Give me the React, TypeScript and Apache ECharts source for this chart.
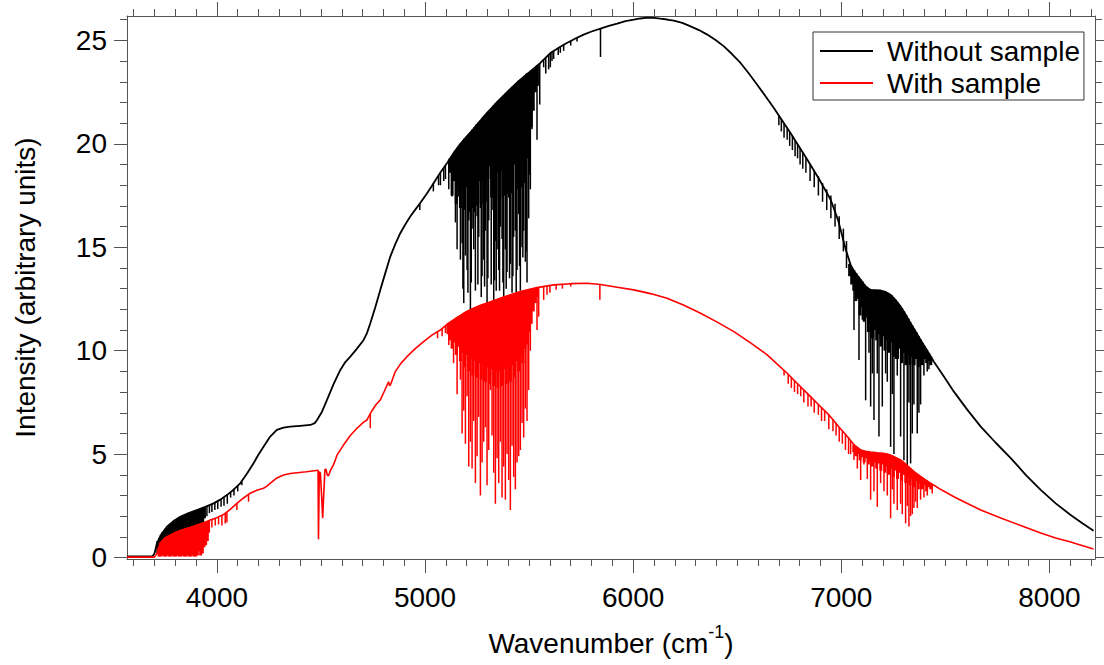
import React, { useEffect, useRef } from "react";
import * as echarts from "echarts";

// ---- axis ticks ----
const xMajorTicks = [4000, 5000, 6000, 7000, 8000];
const xMinorTicks = [3600, 3700, 3800, 3900, 4000, 4100, 4200, 4300, 4400, 4500, 4600, 4700, 4800, 4900, 5000, 5100, 5200, 5300, 5400, 5500, 5600, 5700, 5800, 5900, 6000, 6100, 6200, 6300, 6400, 6500, 6600, 6700, 6800, 6900, 7000, 7100, 7200, 7300, 7400, 7500, 7600, 7700, 7800, 7900, 8000, 8100, 8200];
const yMajorTicks = [0, 5, 10, 15, 20, 25];
const yMinorTicks = [0, 1, 2, 3, 4, 5, 6, 7, 8, 9, 10, 11, 12, 13, 14, 15, 16, 17, 18, 19, 20, 21, 22, 23, 24, 25, 26];

const seriesNames = ["Without sample", "With sample"];

// ---- spectrum envelopes [wavenumber, intensity] ----
const blackBase = [
  [3568, 0.05], [3690, 0.05], [3700, 0.2], [3712, 0.69], [3735, 1.15], [3760, 1.49], [3790, 1.75], [3824, 1.97], [3864, 2.15], [3904, 2.3], [3944, 2.45], [3984, 2.62], [4016, 2.8], [4048, 3.02], [4080, 3.28], [4112, 3.59], [4144, 4.05], [4176, 4.56], [4200, 4.98], [4224, 5.36], [4256, 5.85], [4288, 6.17], [4320, 6.28], [4352, 6.33], [4400, 6.37], [4449, 6.41], [4470, 6.5], [4481, 6.65], [4505, 7.05], [4529, 7.62], [4561, 8.4], [4593, 9.07], [4617, 9.45], [4641, 9.71], [4673, 10.1], [4705, 10.52], [4721, 10.85], [4737, 11.33], [4761, 12.1], [4785, 12.94], [4809, 13.75], [4833, 14.55], [4857, 15.15], [4881, 15.68], [4905, 16.1], [4929, 16.49], [4953, 16.82], [4977, 17.14], [5009, 17.6], [5041, 18.1], [5073, 18.6], [5106, 19.07], [5137, 19.55], [5170, 20.0], [5218, 20.55], [5260, 21.05], [5298, 21.5], [5340, 21.95], [5380, 22.35], [5420, 22.75], [5458, 23.1], [5506, 23.5], [5554, 23.91], [5602, 24.39], [5666, 24.79], [5720, 25.08], [5762, 25.28], [5800, 25.43], [5843, 25.57], [5883, 25.7], [5923, 25.81], [5963, 25.93], [6003, 26.0], [6035, 26.06], [6067, 26.1], [6100, 26.09], [6131, 26.05], [6163, 26.01], [6195, 25.96], [6236, 25.85], [6276, 25.68], [6316, 25.5], [6356, 25.28], [6396, 25.02], [6436, 24.71], [6476, 24.33], [6516, 23.91], [6556, 23.4], [6596, 22.86], [6636, 22.3], [6676, 21.73], [6716, 21.13], [6756, 20.52], [6796, 19.88], [6837, 19.23], [6893, 18.3], [6949, 17.3], [6985, 16.3], [7021, 14.9], [7045, 14.15], [7061, 13.85], [7093, 13.43], [7117, 13.1], [7141, 12.94], [7165, 12.93], [7189, 12.91], [7213, 12.84], [7237, 12.7], [7261, 12.45], [7285, 12.13], [7309, 11.75], [7333, 11.33], [7357, 10.93], [7381, 10.52], [7413, 10.0], [7445, 9.47], [7493, 8.75], [7541, 8.02], [7605, 7.15], [7670, 6.33], [7742, 5.55], [7814, 4.81], [7886, 4.0], [7958, 3.27], [8030, 2.62], [8102, 2.06], [8160, 1.65], [8212, 1.3],
];

const redBase = [
  [3568, 0.02], [3700, 0.02], [3712, 0.2], [3727, 0.69], [3750, 0.95], [3791, 1.17], [3830, 1.33], [3870, 1.45], [3904, 1.57], [3940, 1.7], [3968, 1.81], [4000, 1.93], [4032, 2.08], [4064, 2.33], [4096, 2.62], [4128, 2.88], [4160, 3.11], [4192, 3.25], [4224, 3.35], [4240, 3.45], [4256, 3.59], [4288, 3.85], [4320, 3.99], [4352, 4.06], [4385, 4.1], [4430, 4.15], [4486, 4.22], [4488, 0.88], [4490, 0.9], [4492, 4.15], [4497, 4.1], [4503, 3.0], [4508, 1.9], [4513, 3.0], [4519, 4.25], [4524, 4.27], [4530, 4.0], [4536, 3.95], [4545, 4.2], [4561, 4.5], [4577, 4.95], [4609, 5.45], [4641, 5.9], [4673, 6.25], [4705, 6.55], [4721, 6.65], [4745, 7.1], [4765, 7.4], [4785, 7.62], [4805, 8.05], [4825, 8.5], [4830, 8.3], [4836, 8.4], [4857, 8.99], [4885, 9.4], [4913, 9.71], [4953, 10.1], [4993, 10.44], [5033, 10.75], [5073, 11.0], [5113, 11.33], [5137, 11.49], [5200, 11.9], [5266, 12.2], [5298, 12.3], [5378, 12.6], [5458, 12.86], [5538, 13.05], [5618, 13.18], [5700, 13.24], [5779, 13.26], [5843, 13.2], [5923, 13.07], [6003, 12.94], [6083, 12.76], [6163, 12.54], [6244, 12.2], [6324, 11.81], [6404, 11.38], [6484, 10.92], [6564, 10.38], [6644, 9.8], [6692, 9.35], [6740, 8.91], [6790, 8.4], [6840, 7.9], [6890, 7.4], [6940, 6.9], [6990, 6.3], [7029, 5.85], [7061, 5.45], [7093, 5.2], [7117, 5.14], [7141, 5.1], [7173, 5.06], [7200, 5.04], [7221, 5.0], [7253, 4.88], [7285, 4.72], [7317, 4.45], [7349, 4.15], [7389, 3.86], [7429, 3.59], [7485, 3.25], [7541, 2.94], [7606, 2.61], [7670, 2.3], [7766, 1.91], [7862, 1.55], [7958, 1.19], [8030, 0.95], [8102, 0.75], [8160, 0.57], [8212, 0.41],
];

// ---- absorption bands, dense part [wavenumber, top, bottom] ----
const blackCore = [
  [3716, 0.8, 0.2], [3724, 0.95, 0.4], [3732, 1.1, 0.6], [3740, 1.22, 0.75], [3748, 1.32, 0.85], [3756, 1.42, 0.9], [3764, 1.52, 0.95], [3772, 1.58, 1.0], [3780, 1.65, 1.05], [3788, 1.72, 1.1], [3796, 1.78, 1.15], [3804, 1.84, 1.2], [3812, 1.9, 1.25], [3820, 1.95, 1.3], [3828, 1.99, 1.3], [3836, 2.03, 1.35], [3844, 2.07, 1.4], [3852, 2.1, 1.4], [3860, 2.13, 1.45], [3868, 2.17, 1.45], [3876, 2.2, 1.5], [3884, 2.23, 1.5], [3892, 2.26, 1.55], [3900, 2.29, 1.55], [3908, 2.32, 1.6], [3916, 2.35, 1.6], [3924, 2.38, 1.65], [3932, 2.41, 1.7], [3940, 2.44, 1.9],
  [5120, 19.3, 18.6], [5130, 19.4, 17.5], [5140, 19.55, 18.2], [5150, 19.7, 17.1], [5160, 19.85, 18.0], [5170, 20.0, 16.9], [5180, 20.1, 17.8], [5190, 20.25, 16.8], [5200, 20.35, 17.9], [5210, 20.45, 16.7], [5220, 20.55, 17.9], [5230, 20.7, 16.9], [5240, 20.8, 18.1], [5250, 20.95, 17.0], [5260, 21.05, 18.2], [5270, 21.15, 17.1], [5280, 21.3, 18.3], [5290, 21.4, 17.2], [5300, 21.5, 18.4], [5310, 21.6, 18.9], [5320, 21.7, 17.4], [5330, 21.85, 18.5], [5340, 21.95, 17.3], [5350, 22.05, 18.6], [5360, 22.15, 17.4], [5370, 22.25, 18.7], [5380, 22.35, 17.5], [5390, 22.45, 18.9], [5400, 22.55, 17.6], [5410, 22.65, 18.8], [5420, 22.75, 17.6], [5430, 22.85, 19.0], [5440, 22.95, 17.8], [5450, 23.05, 19.1], [5460, 23.1, 17.9], [5470, 23.2, 19.2], [5480, 23.3, 18.1], [5490, 23.4, 19.3], [5500, 23.45, 19.8], [5510, 23.55, 20.8], [5520, 23.6, 21.6], [5530, 23.7, 22.5], [5540, 23.8, 22.8],
  [7040, 14.2, 13.6], [7050, 14.0, 13.2], [7060, 13.9, 12.9], [7070, 13.75, 12.4], [7080, 13.6, 12.5], [7090, 13.47, 11.7], [7100, 13.35, 12.1], [7110, 13.2, 11.4], [7120, 13.1, 11.6], [7130, 13.0, 10.9], [7140, 12.95, 11.3], [7150, 12.94, 10.6], [7160, 12.93, 11.0], [7170, 12.93, 10.5], [7180, 12.92, 10.8], [7190, 12.91, 10.2], [7200, 12.88, 10.7], [7210, 12.85, 10.0], [7220, 12.8, 10.5], [7230, 12.74, 9.9], [7240, 12.68, 10.4], [7250, 12.57, 9.7], [7260, 12.46, 10.3], [7270, 12.33, 9.6], [7280, 12.2, 10.1], [7290, 12.06, 9.4], [7300, 11.9, 9.9], [7310, 11.73, 9.3], [7320, 11.56, 9.8], [7330, 11.38, 9.3], [7340, 11.21, 9.7], [7350, 11.04, 9.3], [7360, 10.88, 9.6], [7370, 10.7, 9.2], [7380, 10.54, 9.5], [7390, 10.37, 9.3], [7400, 10.21, 9.6], [7410, 10.05, 9.4], [7420, 9.88, 9.5], [7430, 9.72, 9.3],
];

// ---- individual absorption lines [wavenumber, top, bottom] ----
const blackLines = [
  [3952, 2.48, 2.0], [3964, 2.53, 2.15], [3976, 2.58, 2.2], [3990, 2.65, 2.3], [4004, 2.72, 2.35], [4020, 2.83, 2.45], [4034, 2.92, 2.5], [4050, 3.03, 2.6], [4066, 3.16, 2.9], [4082, 3.3, 3.0], [4100, 3.47, 3.2], [4120, 3.68, 3.5],
  [4975, 17.1, 16.8], [5040, 18.1, 17.7], [5065, 18.45, 18.0], [5074, 18.6, 18.0], [5090, 18.85, 18.2], [5098, 18.95, 18.3], [5114, 19.2, 17.8], [5130, 19.45, 17.45], [5146, 19.7, 16.2], [5162, 19.9, 17.45], [5170, 20.0, 14.4], [5178, 20.1, 15.2], [5186, 20.2, 12.3], [5194, 20.3, 14.6], [5202, 20.4, 13.9], [5210, 20.45, 16.3], [5218, 20.55, 12.0], [5226, 20.65, 15.9], [5234, 20.75, 14.9], [5242, 20.85, 12.9], [5250, 20.95, 16.5], [5258, 21.0, 15.5], [5266, 21.1, 16.9], [5274, 21.2, 13.6], [5282, 21.3, 14.4], [5290, 21.4, 15.8], [5298, 21.5, 12.3], [5306, 21.6, 16.3], [5314, 21.65, 18.3], [5322, 21.75, 16.8], [5330, 21.85, 12.1], [5338, 21.95, 15.3], [5346, 22.0, 14.9], [5354, 22.1, 13.9], [5362, 22.15, 16.0], [5370, 22.25, 15.4], [5378, 22.35, 12.6], [5386, 22.4, 14.9], [5394, 22.5, 13.8], [5402, 22.6, 17.4], [5410, 22.65, 14.2], [5418, 22.75, 12.8], [5426, 22.8, 15.5], [5434, 22.9, 15.8], [5442, 22.95, 13.9], [5450, 23.05, 16.6], [5458, 23.1, 12.9], [5466, 23.15, 15.0], [5474, 23.25, 15.8], [5482, 23.3, 14.3], [5490, 23.4, 13.3], [5498, 23.45, 16.4], [5506, 23.5, 17.8], [5514, 23.55, 20.7], [5530, 23.7, 22.5], [5538, 23.75, 20.2], [5551, 23.9, 21.9], [5570, 24.05, 23.7], [5580, 24.2, 23.4], [5594, 24.3, 23.6], [5602, 24.39, 23.7], [5610, 24.45, 24.0], [5618, 24.5, 24.1], [5640, 24.65, 24.3], [5650, 24.7, 24.4], [5666, 24.79, 24.5], [5700, 24.98, 24.75], [5730, 25.13, 24.95], [5843, 25.57, 24.2],
  [5154, 19.8, 14.9], [5182, 20.15, 13.0], [5206, 20.42, 12.8], [5222, 20.6, 13.3], [5238, 20.8, 16.7], [5254, 20.98, 13.2], [5270, 21.15, 12.6], [5286, 21.35, 13.1], [5302, 21.55, 13.5], [5318, 21.7, 13.2], [5334, 21.9, 13.4], [5342, 21.97, 12.9], [5358, 22.12, 12.9], [5374, 22.3, 13.3], [5390, 22.45, 13.0], [5406, 22.62, 13.5], [5422, 22.78, 13.6], [5438, 22.92, 12.7], [5454, 23.07, 14.1], [5470, 23.2, 14.5], [5486, 23.35, 14.8], [5502, 23.47, 18.5],
  [6700, 21.4, 20.9], [6712, 21.2, 20.6], [6725, 21.0, 20.3], [6740, 20.75, 20.2], [6752, 20.58, 19.9], [6765, 20.38, 19.7], [6778, 20.17, 19.4], [6790, 19.98, 19.3], [6802, 19.78, 19.0], [6815, 19.58, 18.8], [6830, 19.34, 18.6], [6850, 19.03, 18.2], [6870, 18.73, 17.9], [6890, 18.43, 17.5], [6910, 18.1, 17.2], [6930, 17.8, 16.8], [6950, 17.5, 16.4], [6970, 17.1, 16.0], [6990, 16.5, 15.4], [7010, 15.9, 14.8], [7025, 15.3, 14.0],
  [7061, 13.9, 11.0], [7085, 13.55, 9.55], [7101, 13.33, 11.5], [7117, 13.1, 7.6], [7133, 12.98, 9.9], [7141, 12.94, 7.3], [7149, 12.94, 8.9], [7157, 12.93, 6.65], [7173, 12.93, 8.9], [7181, 12.92, 5.85], [7189, 12.91, 10.6], [7197, 12.89, 7.3], [7213, 12.84, 8.9], [7221, 12.8, 8.5], [7237, 12.7, 5.35], [7245, 12.62, 7.9], [7253, 12.53, 5.0], [7261, 12.45, 9.6], [7269, 12.35, 8.8], [7285, 12.13, 5.85], [7301, 11.88, 4.7], [7317, 11.6, 4.4], [7325, 11.47, 7.5], [7333, 11.33, 4.55], [7341, 11.2, 6.0], [7349, 11.07, 7.4], [7365, 10.8, 6.0], [7373, 10.65, 7.0], [7381, 10.52, 7.4], [7397, 10.26, 8.8], [7413, 10.0, 9.0], [7421, 9.86, 9.1],
];

const redCore = [
  [3722, 0.5, 0.05], [3730, 0.72, 0.05], [3738, 0.82, 0.1], [3746, 0.9, 0.05], [3754, 0.97, 0.05], [3762, 1.02, 0.1], [3770, 1.07, 0.05], [3778, 1.11, 0.05], [3786, 1.15, 0.1], [3794, 1.18, 0.05], [3802, 1.22, 0.05], [3810, 1.26, 0.1], [3818, 1.29, 0.05], [3826, 1.32, 0.05], [3834, 1.34, 0.1], [3842, 1.37, 0.05], [3850, 1.4, 0.05], [3858, 1.42, 0.1], [3866, 1.44, 0.05], [3874, 1.46, 0.05], [3882, 1.49, 0.1], [3890, 1.52, 0.05], [3898, 1.55, 0.05], [3906, 1.58, 0.1], [3914, 1.6, 0.3], [3922, 1.63, 0.1], [3930, 1.66, 0.2], [3938, 1.69, 0.5], [3946, 1.72, 0.6], [3954, 1.75, 0.8], [3960, 1.77, 1.2],
  [5110, 11.3, 10.8], [5120, 11.38, 10.5], [5130, 11.45, 10.1], [5140, 11.52, 10.4], [5150, 11.6, 9.8], [5160, 11.66, 10.2], [5170, 11.72, 9.5], [5180, 11.78, 9.9], [5190, 11.84, 9.2], [5200, 11.9, 9.8], [5210, 11.95, 9.0], [5220, 12.0, 9.6], [5230, 12.05, 8.8], [5240, 12.1, 9.5], [5250, 12.14, 8.7], [5260, 12.18, 9.4], [5270, 12.21, 8.6], [5280, 12.24, 9.3], [5290, 12.27, 8.5], [5300, 12.3, 9.2], [5310, 12.34, 8.4], [5320, 12.38, 9.1], [5330, 12.42, 8.3], [5340, 12.46, 9.0], [5350, 12.5, 8.2], [5360, 12.53, 9.0], [5370, 12.57, 8.3], [5380, 12.6, 9.1], [5390, 12.63, 8.4], [5400, 12.66, 9.2], [5410, 12.69, 8.5], [5420, 12.72, 9.3], [5430, 12.75, 8.7], [5440, 12.78, 9.5], [5450, 12.82, 9.0], [5460, 12.86, 9.8], [5470, 12.89, 9.4], [5480, 12.92, 10.1], [5490, 12.94, 10.3], [5500, 12.96, 10.9], [5510, 12.98, 11.3], [5520, 13.0, 11.9], [5530, 13.03, 12.3], [5540, 13.05, 12.6],
  [7060, 5.46, 5.1], [7070, 5.38, 4.9], [7080, 5.3, 5.0], [7090, 5.22, 4.7], [7100, 5.18, 4.85], [7110, 5.15, 4.6], [7120, 5.13, 4.8], [7130, 5.12, 4.5], [7140, 5.1, 4.7], [7150, 5.09, 4.4], [7160, 5.08, 4.6], [7170, 5.06, 4.3], [7180, 5.05, 4.55], [7190, 5.04, 4.2], [7200, 5.04, 4.5], [7210, 5.02, 4.1], [7220, 5.0, 4.4], [7230, 4.97, 4.0], [7240, 4.93, 4.3], [7250, 4.89, 3.9], [7260, 4.85, 4.2], [7270, 4.8, 3.8], [7280, 4.75, 4.1], [7290, 4.68, 3.7], [7300, 4.6, 4.0], [7310, 4.52, 3.6], [7320, 4.43, 3.9], [7330, 4.33, 3.5], [7340, 4.24, 3.8], [7350, 4.15, 3.4], [7360, 4.07, 3.7], [7370, 4.0, 3.3], [7380, 3.93, 3.6], [7390, 3.86, 3.3], [7400, 3.79, 3.5], [7410, 3.73, 3.2], [7420, 3.66, 3.4], [7430, 3.59, 3.3],
];

const redLines = [
  [3976, 1.84, 1.45], [3992, 1.9, 1.55], [4008, 1.96, 1.6], [4024, 2.03, 1.55], [4040, 2.12, 1.65], [4048, 2.19, 1.7], [4096, 2.62, 2.3], [4152, 3.05, 2.7],
  [4737, 6.95, 6.25], [5060, 10.9, 10.6], [5082, 11.05, 10.7], [5098, 11.2, 10.85], [5114, 11.33, 10.28],
  [5137, 11.49, 9.4], [5154, 11.62, 7.9], [5170, 11.72, 8.6], [5178, 11.77, 6.0], [5186, 11.8, 7.1], [5194, 11.86, 5.5], [5202, 11.9, 7.8], [5210, 11.95, 4.4], [5218, 12.0, 5.6], [5226, 12.03, 4.3], [5234, 12.07, 6.6], [5242, 12.1, 3.6], [5250, 12.14, 4.9], [5258, 12.17, 6.8], [5266, 12.2, 3.0], [5274, 12.22, 4.6], [5282, 12.24, 5.6], [5290, 12.27, 6.3], [5298, 12.3, 3.5], [5306, 12.33, 5.2], [5314, 12.35, 8.1], [5322, 12.39, 5.9], [5330, 12.42, 4.1], [5338, 12.45, 2.6], [5346, 12.47, 4.8], [5354, 12.5, 3.6], [5362, 12.53, 5.6], [5370, 12.57, 2.9], [5378, 12.6, 4.4], [5386, 12.62, 2.8], [5394, 12.64, 5.0], [5402, 12.67, 3.75], [5410, 12.69, 2.3], [5418, 12.71, 5.4], [5426, 12.74, 3.9], [5434, 12.77, 3.3], [5442, 12.79, 4.6], [5450, 12.82, 4.9], [5458, 12.86, 5.2], [5466, 12.88, 6.5], [5474, 12.9, 5.8], [5482, 12.92, 7.2], [5490, 12.94, 6.6], [5498, 12.96, 8.1], [5506, 12.97, 10.0], [5538, 13.05, 11.0], [5546, 13.06, 11.65], [5570, 13.1, 12.46], [5586, 13.13, 12.7], [5600, 13.16, 12.8], [5630, 13.2, 12.95], [5660, 13.22, 13.0], [5700, 13.24, 13.1], [5840, 13.2, 12.46],
  [6725, 9.05, 8.8], [6745, 8.86, 8.4], [6760, 8.72, 8.2], [6775, 8.56, 8.0], [6790, 8.41, 7.9], [6805, 8.26, 7.8], [6820, 8.1, 7.5], [6840, 7.91, 7.3], [6855, 7.77, 7.3], [6870, 7.6, 7.0], [6890, 7.4, 6.9], [6905, 7.25, 6.6], [6920, 7.1, 6.6], [6940, 6.9, 6.2], [6960, 6.68, 6.1], [6975, 6.5, 5.9], [6990, 6.3, 5.6], [7005, 6.12, 5.5], [7020, 5.95, 5.2], [7035, 5.8, 5.0],
  [7045, 5.65, 5.0], [7061, 5.45, 4.72], [7077, 5.32, 4.3], [7093, 5.2, 3.75], [7109, 5.16, 4.5], [7125, 5.13, 3.8], [7141, 5.1, 2.8], [7157, 5.08, 3.2], [7173, 5.06, 2.45], [7189, 5.04, 3.6], [7205, 5.03, 3.2], [7221, 5.0, 3.0], [7237, 4.95, 1.9], [7245, 4.92, 3.3], [7253, 4.88, 2.6], [7269, 4.8, 2.3], [7285, 4.72, 2.6], [7293, 4.66, 2.1], [7309, 4.54, 1.65], [7317, 4.45, 2.5], [7325, 4.37, 1.5], [7333, 4.3, 2.0], [7341, 4.22, 2.1], [7349, 4.15, 2.4], [7357, 4.09, 2.7], [7365, 4.03, 2.4], [7381, 3.91, 2.8], [7397, 3.81, 2.9], [7413, 3.7, 3.0], [7437, 3.55, 3.1],
];

const FONT = "'Liberation Sans', Arial, Helvetica, sans-serif";
const AXIS_COLOR = "#555";
const X_MIN = 3568;
const X_MAX = 8219;
const Y_MIN = -0.07;
const Y_MAX = 26.18;

function segmentSeries(name: string, data: number[][], color: string, width: number, z: number) {
  return {
    type: "custom",
    name,
    data,
    z,
    clip: true,
    silent: true,
    xAxisIndex: 0,
    yAxisIndex: 0,
    encode: { x: 0, y: [1, 2] },
    renderItem: (_params: any, api: any) => {
      const a = api.coord([api.value(0), api.value(1)]);
      const b = api.coord([api.value(0), api.value(2)]);
      return {
        type: "line",
        shape: { x1: a[0], y1: a[1], x2: b[0], y2: b[1] },
        style: { stroke: color, lineWidth: width },
      };
    },
  };
}

function xAxisDef(position: string, major: boolean, withLabels: boolean) {
  return {
    type: "value",
    position,
    min: X_MIN,
    max: X_MAX,
    splitLine: { show: false },
    axisLine: { show: major, onZero: false, lineStyle: { color: AXIS_COLOR, width: 1 } },
    axisTick: {
      show: true,
      length: major ? 14 : 7,
      customValues: major ? xMajorTicks : xMinorTicks,
      lineStyle: { color: AXIS_COLOR, width: 1 },
    },
    axisLabel: withLabels
      ? {
          show: true,
          customValues: xMajorTicks,
          formatter: (v: number) => String(v),
          fontSize: 28,
          fontFamily: FONT,
          color: "#000",
          margin: 24,
        }
      : { show: false },
  };
}

function yAxisDef(position: string, major: boolean, withLabels: boolean) {
  return {
    type: "value",
    position,
    min: Y_MIN,
    max: Y_MAX,
    splitLine: { show: false },
    axisLine: { show: major, onZero: false, lineStyle: { color: AXIS_COLOR, width: 1 } },
    axisTick: {
      show: true,
      length: major ? 13 : 7,
      customValues: major ? yMajorTicks : yMinorTicks,
      lineStyle: { color: AXIS_COLOR, width: 1 },
    },
    axisLabel: withLabels
      ? {
          show: true,
          customValues: yMajorTicks,
          formatter: (v: number) => String(v),
          fontSize: 28,
          fontFamily: FONT,
          color: "#000",
          margin: 20,
        }
      : { show: false },
  };
}

export default function App() {
  const ref = useRef<HTMLDivElement>(null);

  useEffect(() => {
    document.body.style.margin = "0";
    if (!ref.current) return;
    const chart = echarts.init(ref.current, undefined, { renderer: "svg" });

    const xMain: any = xAxisDef("bottom", true, true);
    xMain.name = "{n|Wavenumber (cm}{s|-1}{n|)}";
    xMain.nameLocation = "middle";
    xMain.nameGap = 64;
    xMain.nameTextStyle = {
      fontFamily: FONT,
      color: "#000",
      rich: {
        n: { fontSize: 28, fontFamily: FONT, color: "#000", lineHeight: 34, verticalAlign: "bottom" },
        s: { fontSize: 18, fontFamily: FONT, color: "#000", lineHeight: 34, verticalAlign: "top" },
      },
    };

    const yMain: any = yAxisDef("left", true, true);
    yMain.name = "Intensity (arbitrary units)";
    yMain.nameLocation = "middle";
    yMain.nameGap = 88;
    yMain.nameTextStyle = { fontSize: 28, fontFamily: FONT, color: "#000" };

    chart.setOption({
      animation: false,
      backgroundColor: "#fff",
      grid: { left: 127, top: 16, right: 9, bottom: 106, containLabel: false },
      legend: {
        data: seriesNames,
        orient: "vertical",
        left: 813,
        top: 32,
        padding: [4, 4, 2, 7],
        itemGap: 2,
        itemWidth: 53,
        itemHeight: 2,
        icon: "rect",
        borderColor: "#333",
        borderWidth: 1,
        backgroundColor: "#fff",
        textStyle: { fontSize: 28, fontFamily: FONT, color: "#000", lineHeight: 30, padding: [0, 0, 0, 9] },
        selectedMode: false,
      },
      xAxis: [
        xMain,
        xAxisDef("bottom", false, false),
        xAxisDef("top", true, false),
        xAxisDef("top", false, false),
      ],
      yAxis: [
        yMain,
        yAxisDef("left", false, false),
        yAxisDef("right", true, false),
        yAxisDef("right", false, false),
      ],
      series: [
        {
          type: "line",
          name: seriesNames[0],
          data: blackBase,
          xAxisIndex: 0,
          yAxisIndex: 0,
          symbol: "none",
          z: 2,
          lineStyle: { color: "#000", width: 1.8 },
          itemStyle: { color: "#000" },
        },
        segmentSeries("black core", blackCore, "#000", 3, 2),
        segmentSeries("black lines", blackLines, "#000", 1.5, 2),
        {
          type: "line",
          name: seriesNames[1],
          data: redBase,
          xAxisIndex: 0,
          yAxisIndex: 0,
          symbol: "none",
          z: 3,
          lineStyle: { color: "#ff0000", width: 1.6 },
          itemStyle: { color: "#ff0000" },
        },
        segmentSeries("red core", redCore, "#ff0000", 3, 3),
        segmentSeries("red lines", redLines, "#ff0000", 1.5, 3),
      ],
    });

    return () => chart.dispose();
  }, []);

  return (
    <div
      ref={ref}
      style={{ position: "absolute", left: 0, top: 0, width: 1104, height: 665, background: "#fff" }}
    />
  );
}
